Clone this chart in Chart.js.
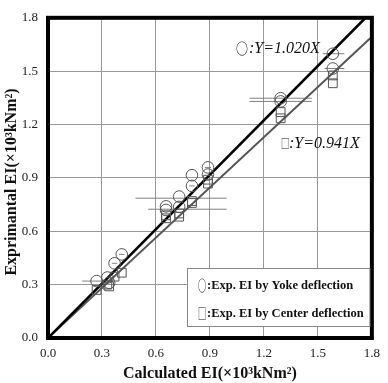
<!DOCTYPE html>
<html>
<head>
<meta charset="utf-8">
<script src="https://cdn.jsdelivr.net/npm/chart.js@4/dist/chart.umd.min.js"></script>
<style>
html,body{margin:0;padding:0;background:#fff;}
#wrap{width:388px;height:383px;position:relative;}
</style>
</head>
<body>
<div id="wrap"><canvas id="c" width="388" height="383"></canvas></div>
<script>
// ---- data ----
const tickLabels = ['0.0','0.3','0.6','0.9','1.2','1.5','1.8'];
const calcEI   = [0.27, 0.33, 0.34, 0.37, 0.41, 0.656, 0.656, 0.729, 0.729, 0.80, 0.80, 0.889, 0.889, 1.293, 1.293, 1.583, 1.583];
const yokeEI   = [0.32, 0.34, 0.31, 0.42, 0.47, 0.74, 0.72, 0.795, 0.737, 0.915, 0.855, 0.959, 0.919, 1.348, 1.33, 1.598, 1.515];
const centerEI = [0.27, 0.30, 0.29, 0.345, 0.367, 0.673, 0.69, 0.682, 0.70, 0.759, 0.77, 0.868, 0.89, 1.27, 1.235, 1.476, 1.432];
// horizontal error bars (range of calculated EI)
const errY  = [0.32, 0.42, 0.47, 0.786, 0.724, 0.855, 0.959, 1.348, 1.33, 1.598, 1.515];
const errLo = [0.19, 0.355, 0.395, 0.486, 0.557, 0.785, 0.872, 1.12, 1.12, 1.527, 1.537];
const errHi = [0.365, 0.385, 0.425, 0.993, 0.993, 0.815, 0.906, 1.466, 1.466, 1.647, 1.647];
const yokeSlope = 1.020;
const centerSlope = 0.941;
const axisMax = 1.8;

const yokeLabel = 'Y=1.020X';
const centerLabel = 'Y=0.941X';
const legendYoke = ':Exp. EI by Yoke deflection';
const legendCenter = ':Exp. EI by Center deflection';
const xTitle = 'Calculated EI(×10³kNm²)';
const yTitle = 'Exprimantal EI(×10³kNm²)';

// ---- datasets ----
const datasets = [];
for (let i = 0; i < errY.length; i++) {
  datasets.push({
    type: 'line',
    data: [{x: errLo[i], y: errY[i]}, {x: errHi[i], y: errY[i]}],
    borderColor: '#808080', borderWidth: 1, pointRadius: 0, fill: false, order: 5
  });
}
function lineEnd(s){ const xe = Math.min(axisMax, axisMax / s); return [{x:0,y:0},{x:xe,y:s*xe}]; }
datasets.push({type:'line', data: lineEnd(centerSlope), borderColor:'#555', borderWidth:2, pointRadius:0, fill:false, order:4});
datasets.push({type:'line', data: lineEnd(yokeSlope), borderColor:'#000', borderWidth:2.6, pointRadius:0, fill:false, order:3});
datasets.push({
  type:'scatter', data: calcEI.map((x,i)=>({x:x, y:centerEI[i]})),
  pointStyle:'rect', pointRadius:6.2, borderColor:'#555', borderWidth:1, backgroundColor:'rgba(0,0,0,0)', order:2
});
datasets.push({
  type:'scatter', data: calcEI.map((x,i)=>({x:x, y:yokeEI[i]})),
  pointStyle:'circle', pointRadius:5.8, borderColor:'#555', borderWidth:1, backgroundColor:'rgba(0,0,0,0)', order:1
});

const serif = "'Liberation Serif','Times New Roman',serif";
const symFont = "'Noto Sans CJK JP','DejaVu Sans',sans-serif";

const decor = {
  id: 'decor',
  afterDraw(chart) {
    const ctx = chart.ctx, a = chart.chartArea;
    ctx.save();
    // frame
    ctx.strokeStyle = '#000'; ctx.lineWidth = 4;
    ctx.strokeRect(a.left, a.top, a.right - a.left, a.bottom - a.top);
    // legend box
    ctx.fillStyle = '#fff';
    ctx.fillRect(187, 268, a.right - 2 - 187, 59);
    ctx.strokeStyle = '#888'; ctx.lineWidth = 1;
    ctx.strokeRect(187.5, 268.5, a.right - 2 - 187.5, 58);
    ctx.fillStyle = '#111';
    ctx.textBaseline = 'middle';
    ctx.textAlign = 'left';
    function sym(ch, x, y, size, sx) {
      ctx.save();
      ctx.translate(x, y);
      ctx.scale(sx, 1);
      ctx.font = size + 'px ' + symFont;
      ctx.fillText(ch, 0, 0);
      ctx.restore();
    }
    sym('○', 198, 285, 15, 0.55);
    sym('□', 198, 313, 15, 0.55);
    ctx.font = 'bold 12.5px ' + serif;
    ctx.fillText(legendYoke, 207, 286);
    ctx.fillText(legendCenter, 207, 314);
    // regression annotations
    sym('○', 236, 48, 15, 0.8);
    sym('□', 281, 143, 13, 0.65);
    ctx.font = 'italic 16px ' + serif;
    ctx.fillText(':' + yokeLabel, 249, 49);
    ctx.fillText(':' + centerLabel, 289, 144);
    // axis titles
    ctx.font = 'bold 16px ' + serif;
    ctx.textAlign = 'center';
    ctx.fillText(xTitle, (a.left + a.right) / 2, 374);
    ctx.save();
    ctx.translate(12, 182);
    ctx.rotate(-Math.PI / 2);
    ctx.fillText(yTitle, 0, 0);
    ctx.restore();
    ctx.restore();
  }
};

const tickFont = {family: serif, size: 13};
new Chart(document.getElementById('c'), {
  type: 'scatter',
  data: {datasets},
  options: {
    responsive: false, animation: false, devicePixelRatio: 1,
    layout: {padding: {top: 9, right: 10, left: 0, bottom: 0}},
    plugins: {legend: {display: false}, tooltip: {enabled: false}},
    scales: {
      x: {
        type: 'linear', min: 0, max: axisMax,
        afterFit(s){ s.height = 45; },
        ticks: {stepSize: 0.3, padding: 8, color: '#222', font: tickFont,
          callback: (v, i) => tickLabels[i]},
        grid: {color: '#999', lineWidth: 1, drawTicks: false},
        border: {display: false}
      },
      y: {
        type: 'linear', min: 0, max: axisMax,
        afterFit(s){ s.width = 48; },
        ticks: {stepSize: 0.3, padding: 10, color: '#222', font: tickFont,
          callback: (v, i) => tickLabels[i]},
        grid: {color: '#999', lineWidth: 1, drawTicks: false},
        border: {display: false}
      }
    }
  },
  plugins: [decor]
});
</script>
</body>
</html>
